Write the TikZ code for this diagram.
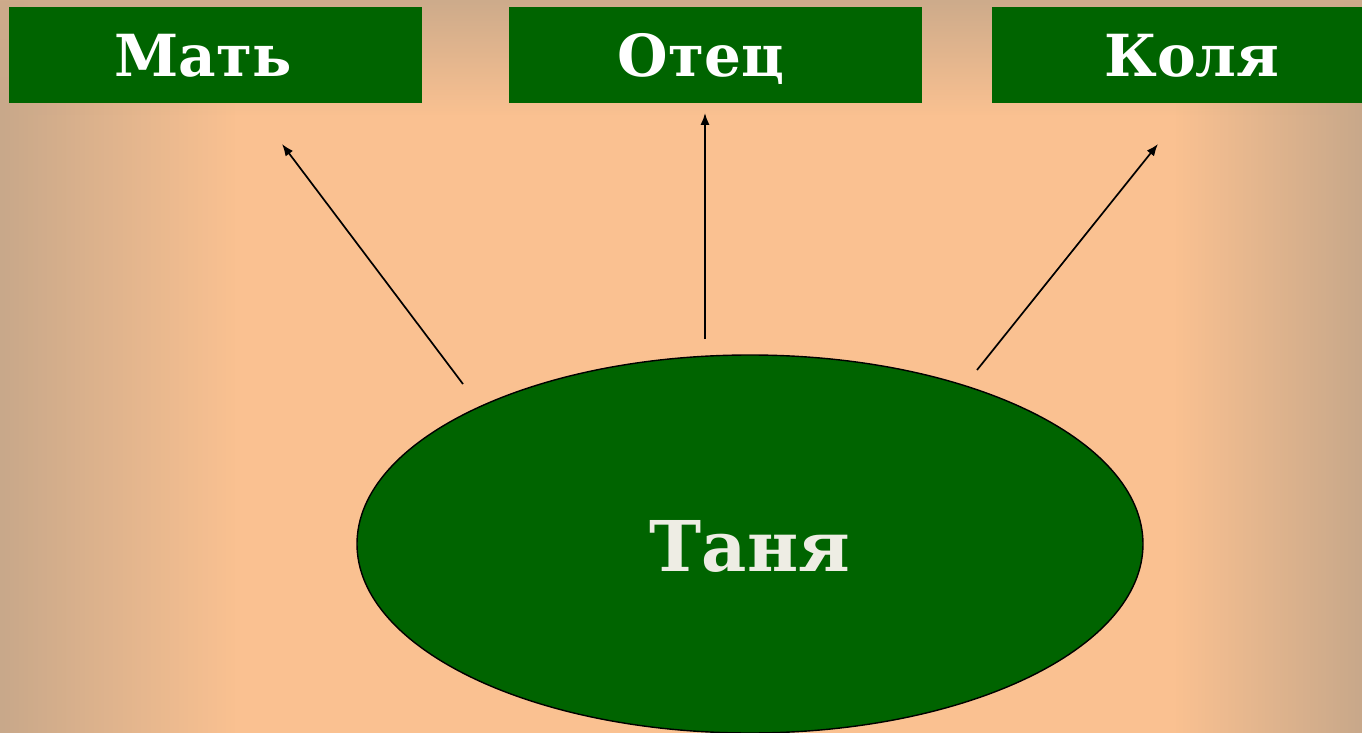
\documentclass[tikz,border=0pt]{standalone}
\usepackage{fontspec}
\setmainfont{DejaVu Serif}
\usetikzlibrary{fadings,arrows.meta,shapes.geometric}
\definecolor{peach}{HTML}{FAC191}
\definecolor{tanbg}{HTML}{C8A88A}
\definecolor{dgreen}{HTML}{006400}
\definecolor{offwhite}{HTML}{EEEDE4}
\tikzset{
  box/.style={fill=dgreen, draw=none, minimum width=413*0.5pt, minimum height=96*0.5pt, inner sep=0pt},
  lbl/.style={text=white, font=\bfseries\fontsize{29}{32}\selectfont, anchor=base, inner sep=0pt},
  conn/.style={draw=black, line width=0.85pt, -{Latex[length=6pt,width=4.6pt]}}
}
\begin{document}
\begin{tikzpicture}[x=0.5pt,y=-0.5pt]
\useasboundingbox (0,0) rectangle (1362,733);
% background
\fill[peach] (0,0) rectangle (1362,733);
\fill[tanbg, path fading=east] (0,0) rectangle (235,733);
\fill[tanbg, path fading=west] (1175,0) rectangle (1362,733);
\fill[tanbg!90!peach, path fading=south] (0,0) rectangle (1362,115);
% boxes
\node[box] (matB) at (215.5,55) {};
\node[box] (otecB) at (715,55) {};
\node[box, minimum width=420*0.5pt] (kolyaB) at (1202,55) {};
\node[lbl] (mat) at (203,77) {Мать};
\node[lbl] (otec) at (701,77) {Отец};
\node[lbl] (kolya) at (1192,77) {Коля};
% ellipse
\node[ellipse, draw=black, line width=0.7pt, fill=dgreen, minimum width=786*0.5pt, minimum height=378*0.5pt, inner sep=0pt] (tanya) at (750,544) {};
\node[text=offwhite, font=\bfseries\fontsize{35}{40}\selectfont, anchor=base, inner sep=0pt] (tanyaT) at (750,571) {Таня};
% connector endpoints
\coordinate (s1) at (463,384);
\coordinate (e1) at (282,144);
\coordinate (s2) at (705,339);
\coordinate (e2) at (705,113);
\coordinate (s3) at (977,370);
\coordinate (e3) at (1158,144);
\draw[conn] (s1) -- (e1);
\draw[conn] (s2) -- (e2);
\draw[conn] (s3) -- (e3);
\end{tikzpicture}
\end{document}
